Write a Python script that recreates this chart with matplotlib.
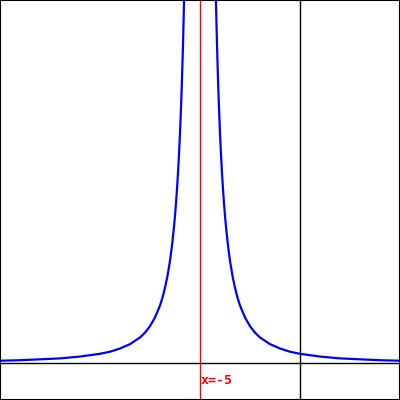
import matplotlib
matplotlib.use("Agg")
import matplotlib.pyplot as plt

# values: y = height of the curve above the x axis
left_x = [-15, -14, -13, -12, -11, -10, -9.5, -9, -8.5, -8, -7.75, -7.5, -7.25,
          -7, -6.875, -6.75, -6.625, -6.5, -6.4, -6.3, -6.25, -6.2, -6.15, -6.1,
          -6.05, -6.0, -5.95, -5.9, -5.85, -5.8, -5.75, -5.7]
left_y = [0.010, 0.012, 0.016, 0.020, 0.028, 0.040, 0.049, 0.063, 0.082, 0.111,
          0.132, 0.160, 0.198, 0.250, 0.284, 0.327, 0.379, 0.444, 0.510, 0.592,
          0.640, 0.694, 0.756, 0.826, 0.907, 1.000, 1.108, 1.235, 1.384, 1.563,
          1.778, 2.041]
right_x = [-4.3, -4.25, -4.2, -4.15, -4.1, -4.05, -4.0, -3.95, -3.9, -3.85, -3.8,
           -3.75, -3.7, -3.6, -3.5, -3.375, -3.25, -3.125, -3, -2.75, -2.5, -2.25,
           -2, -1.5, -1, -0.5, 0, 1, 2, 3, 4, 5]
right_y = [2.041, 1.778, 1.563, 1.384, 1.235, 1.108, 1.000, 0.907, 0.826, 0.756,
           0.694, 0.640, 0.592, 0.510, 0.444, 0.379, 0.327, 0.284, 0.250, 0.198,
           0.160, 0.132, 0.111, 0.082, 0.063, 0.049, 0.040, 0.028, 0.020, 0.016,
           0.012, 0.010]
asymptote = -5
label = "x=-5"

fig = plt.figure(figsize=(4, 4), dpi=100)
ax = fig.add_axes([0, 0, 1, 1])
ax.set_xlim(-15, 5)
ax.set_ylim(-37 / 230, 363 / 230)
ax.set_xticks([])
ax.set_yticks([])
for s in ax.spines.values():
    s.set_linewidth(1.5)
    s.set_color("black")

ax.axhline(0, color="black", lw=1)
ax.axvline(0, color="black", lw=1)
ax.axvline(asymptote, color="red", lw=1)

ax.plot(left_x, left_y, color="#0000ff", lw=1.6)
ax.plot(right_x, right_y, color="#0000ff", lw=1.6)

ax.text(asymptote + 0.02, -0.05, label, color="red", fontsize=9.5,
        fontweight="bold", family="DejaVu Sans Mono", ha="left", va="top")

fig.savefig("out.png", dpi=100)
